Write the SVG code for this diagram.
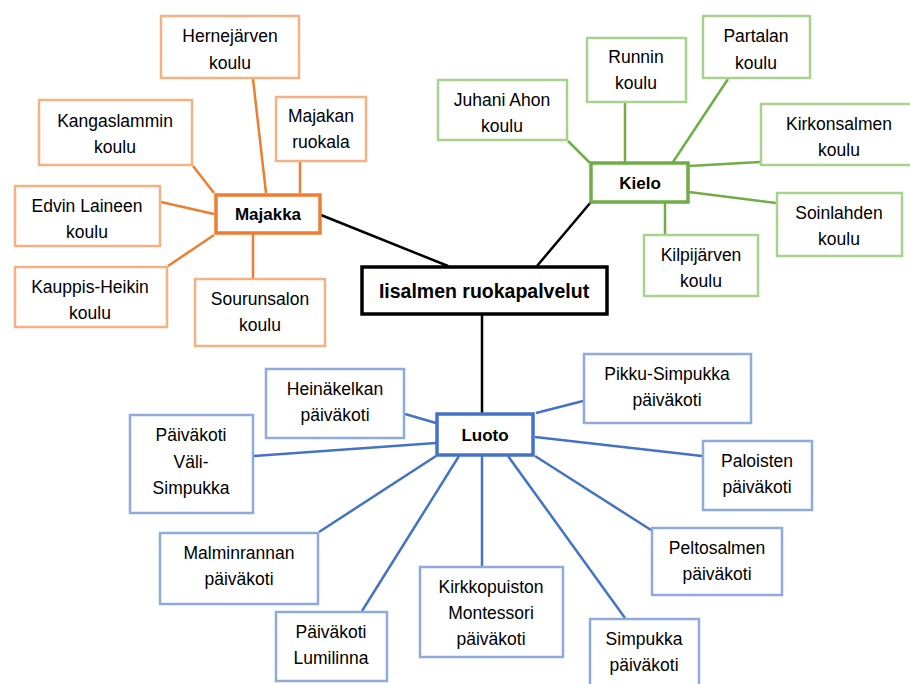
<svg xmlns="http://www.w3.org/2000/svg" width="910" height="684" viewBox="0 0 910 684">
<style>
text{font-family:"Liberation Sans",Arial,sans-serif;font-size:17.5px;fill:#000;text-anchor:middle}
.b{font-weight:bold}
.lo{fill:#fff;stroke:#F4B183;stroke-width:2.5}
.lg{fill:#fff;stroke:#A9D18E;stroke-width:2.5}
.lb{fill:#fff;stroke:#8FAADC;stroke-width:2.5}
.mo{fill:#fff;stroke:#ED7D31;stroke-width:3.5}
.mg{fill:#fff;stroke:#70AD47;stroke-width:3.5}
.mb{fill:#fff;stroke:#4472C4;stroke-width:3.5}
.c{fill:#fff;stroke:#000;stroke-width:3.5}
.eo{stroke:#ED7D31;stroke-width:2.5}
.eg{stroke:#70AD47;stroke-width:2.5}
.eb{stroke:#4472C4;stroke-width:2.5}
.ek{stroke:#000;stroke-width:2.5}
</style>
<rect width="910" height="684" fill="#fff"/>
<g id="connectors" fill="none">
<line class="ek" x1="321" y1="215" x2="448" y2="266"/>
<line class="ek" x1="591" y1="202" x2="537" y2="266"/>
<line class="ek" x1="482" y1="315" x2="482" y2="413"/>
<line class="eo" x1="253" y1="79" x2="266" y2="193"/>
<line class="eo" x1="300" y1="162" x2="300" y2="193"/>
<line class="eo" x1="193" y1="166" x2="214" y2="193"/>
<line class="eo" x1="161" y1="202" x2="214" y2="214"/>
<line class="eo" x1="168" y1="266" x2="214" y2="235"/>
<line class="eo" x1="253" y1="234" x2="253" y2="278"/>
<line class="eg" x1="568" y1="141" x2="590" y2="163"/>
<line class="eg" x1="625" y1="103" x2="625" y2="162"/>
<line class="eg" x1="728" y1="79" x2="673" y2="162"/>
<line class="eg" x1="689" y1="166" x2="760" y2="162"/>
<line class="eg" x1="689" y1="192" x2="776" y2="203"/>
<line class="eg" x1="665" y1="203" x2="665" y2="234"/>
<line class="eb" x1="405" y1="414" x2="436" y2="423"/>
<line class="eb" x1="254" y1="456" x2="436" y2="443"/>
<line class="eb" x1="319" y1="532" x2="436" y2="456"/>
<line class="eb" x1="362" y1="611" x2="459" y2="456"/>
<line class="eb" x1="482" y1="456" x2="482" y2="566"/>
<line class="eb" x1="536" y1="413" x2="583" y2="401"/>
<line class="eb" x1="535" y1="437" x2="702" y2="456"/>
<line class="eb" x1="535" y1="456" x2="651" y2="530"/>
<line class="eb" x1="508" y1="456" x2="625" y2="618"/>
</g>
<g id="center"><rect class="c" x="362" y="267" width="245" height="47"/><text class="b" x="484" y="298" style="font-size:19.5px">Iisalmen ruokapalvelut</text></g>
<g id="majakka"><rect class="mo" x="216" y="195" width="104" height="38"/><text class="b" x="268" y="220" style="font-size:17px">Majakka</text></g>
<g id="kielo"><rect class="mg" x="591" y="163" width="97" height="39"/><text class="b" x="640" y="189" style="font-size:17px">Kielo</text></g>
<g id="luoto"><rect class="mb" x="437" y="414" width="96" height="41"/><text class="b" x="485" y="441" style="font-size:17px">Luoto</text></g>
<g id="hernejarven"><rect class="lo" x="161" y="16" width="138" height="62"/><text x="230" y="42">Hernejärven</text><text x="230" y="69">koulu</text></g>
<g id="majakan"><rect class="lo" x="276" y="97" width="90" height="64"/><text x="321" y="122">Majakan</text><text x="321" y="148">ruokala</text></g>
<g id="kangaslammin"><rect class="lo" x="39" y="100" width="153" height="65"/><text x="115" y="127">Kangaslammin</text><text x="115" y="153">koulu</text></g>
<g id="edvin"><rect class="lo" x="15" y="186" width="145" height="60"/><text x="87" y="212">Edvin Laineen</text><text x="87" y="238">koulu</text></g>
<g id="kauppis"><rect class="lo" x="15" y="267" width="152" height="60"/><text x="90" y="293">Kauppis-Heikin</text><text x="90" y="319">koulu</text></g>
<g id="sourunsalon"><rect class="lo" x="195" y="279" width="130" height="67"/><text x="260" y="305">Sourunsalon</text><text x="260" y="331">koulu</text></g>
<g id="juhani"><rect class="lg" x="438" y="80" width="129" height="60"/><text x="502" y="106">Juhani Ahon</text><text x="502" y="132">koulu</text></g>
<g id="runnin"><rect class="lg" x="587" y="38" width="99" height="64"/><text x="636" y="63">Runnin</text><text x="636" y="89">koulu</text></g>
<g id="partalan"><rect class="lg" x="703" y="16" width="107" height="62"/><text x="756" y="42">Partalan</text><text x="756" y="69">koulu</text></g>
<g id="kirkonsalmen"><rect class="lg" x="761" y="104" width="160" height="61"/><text x="839" y="130">Kirkonsalmen</text><text x="839" y="156">koulu</text></g>
<g id="soinlahden"><rect class="lg" x="777" y="193" width="125" height="63"/><text x="839" y="219">Soinlahden</text><text x="839" y="245">koulu</text></g>
<g id="kilpijarven"><rect class="lg" x="644" y="235" width="114" height="61"/><text x="701" y="261">Kilpijärven</text><text x="701" y="287">koulu</text></g>
<g id="heinakelkan"><rect class="lb" x="266" y="369" width="138" height="69"/><text x="335" y="395">Heinäkelkan</text><text x="335" y="421">päiväkoti</text></g>
<g id="valisimpukka"><rect class="lb" x="130" y="415" width="123" height="98"/><text x="191" y="441">Päiväkoti</text><text x="191" y="468">Väli-</text><text x="191" y="494">Simpukka</text></g>
<g id="malminrannan"><rect class="lb" x="160" y="533" width="158" height="71"/><text x="239" y="559">Malminrannan</text><text x="239" y="585">päiväkoti</text></g>
<g id="lumilinna"><rect class="lb" x="276" y="612" width="111" height="69"/><text x="331" y="638">Päiväkoti</text><text x="331" y="664">Lumilinna</text></g>
<g id="kirkkopuiston"><rect class="lb" x="420" y="567" width="143" height="90"/><text x="491" y="593">Kirkkopuiston</text><text x="491" y="619">Montessori</text><text x="491" y="645">päiväkoti</text></g>
<g id="simpukka"><rect class="lb" x="590" y="619" width="109" height="72"/><text x="644" y="645">Simpukka</text><text x="644" y="671">päiväkoti</text></g>
<g id="pikkusimpukka"><rect class="lb" x="584" y="354" width="167" height="69"/><text x="667" y="380">Pikku-Simpukka</text><text x="667" y="406">päiväkoti</text></g>
<g id="paloisten"><rect class="lb" x="703" y="441" width="109" height="69"/><text x="757" y="467">Paloisten</text><text x="757" y="493">päiväkoti</text></g>
<g id="peltosalmen"><rect class="lb" x="652" y="528" width="130" height="67"/><text x="717" y="554">Peltosalmen</text><text x="717" y="580">päiväkoti</text></g>
</svg>
